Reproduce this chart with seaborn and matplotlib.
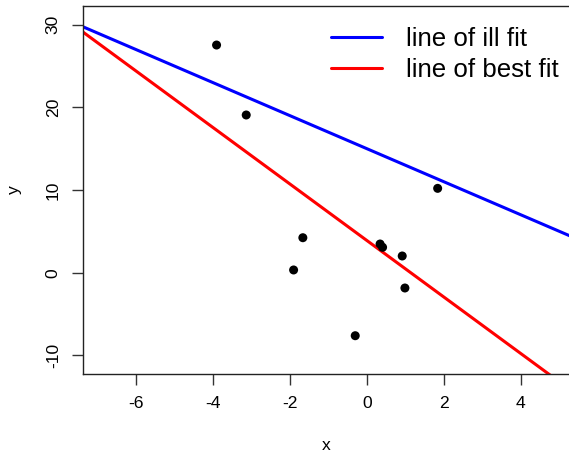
import numpy as np
import pandas as pd
import seaborn as sns
import matplotlib
matplotlib.use("Agg")
import matplotlib.pyplot as plt

# Observed points
x_vals = [-3.90, -3.13, -1.66, -1.90, 0.345, 0.41, 0.92, 0.99, -0.30, 1.84]
y_vals = [27.53, 19.07, 4.23, 0.33, 3.47, 3.07, 2.02, -1.85, -7.62, 10.2]

# Line coefficients (intercept, slope)
ill_fit = (15.0, -2.0)
best_fit = (3.9, -3.42)

x_ticks = [-6, -4, -2, 0, 2, 4]
y_ticks = [-10, 0, 10, 20, 30]

sns.set_style("ticks")
plt.rcParams["font.family"] = ["Liberation Sans", "DejaVu Sans"]
plt.rcParams["text.color"] = "black"
plt.rcParams["axes.labelcolor"] = "black"

W, H = 569, 455
fig = plt.figure(figsize=(W / 100, H / 100), dpi=100)
ax = fig.add_axes([83.3 / W, (H - 374) / H, (W - 83.3) / W, (374 - 6) / H])

pts = pd.DataFrame({"x": x_vals, "y": y_vals})

xs = np.array([-9.0, 7.0])
lines = pd.concat([
    pd.DataFrame({"x": xs, "y": ill_fit[0] + ill_fit[1] * xs, "fit": "line of ill fit"}),
    pd.DataFrame({"x": xs, "y": best_fit[0] + best_fit[1] * xs, "fit": "line of best fit"}),
])

sns.lineplot(data=lines, x="x", y="y", hue="fit",
             palette={"line of ill fit": "#0000ff", "line of best fit": "#ff0000"},
             linewidth=2.2, ax=ax, sort=False)
sns.scatterplot(data=pts, x="x", y="y", color="black", s=42, edgecolor="none",
                ax=ax, zorder=3, legend=False)

ax.set_xlim(-7.36, 5.25)
ax.set_ylim(-12.25, 32.25)
ax.set_xticks(x_ticks)
ax.set_yticks(y_ticks)
ax.set_xticklabels([str(t) for t in x_ticks])
ax.set_yticklabels([str(t) for t in y_ticks], rotation=90, va="center")
ax.tick_params(axis="both", direction="out", length=7.7, width=1.0, color="#333333",
               labelsize=12.6, labelcolor="black", pad=8.5)
for side in ["left", "bottom", "top"]:
    ax.spines[side].set_visible(True)
    ax.spines[side].set_color("#222222")
    ax.spines[side].set_linewidth(1.0)
ax.spines["right"].set_visible(False)

ax.set_xlabel("x", fontsize=12.6, labelpad=19, color="black")
ax.set_ylabel("y", fontsize=12.6, labelpad=17, color="black")

leg = ax.legend(loc="upper right", frameon=False, fontsize=18.6, handlelength=2.0,
                handletextpad=0.9, labelspacing=0.27, borderaxespad=0.2,
                bbox_to_anchor=(1.01, 0.985))
leg.set_title(None)
for t in leg.get_texts():
    t.set_color("black")
for h in leg.get_lines():
    h.set_linewidth(2.2)

fig.savefig("out.png", dpi=100)
